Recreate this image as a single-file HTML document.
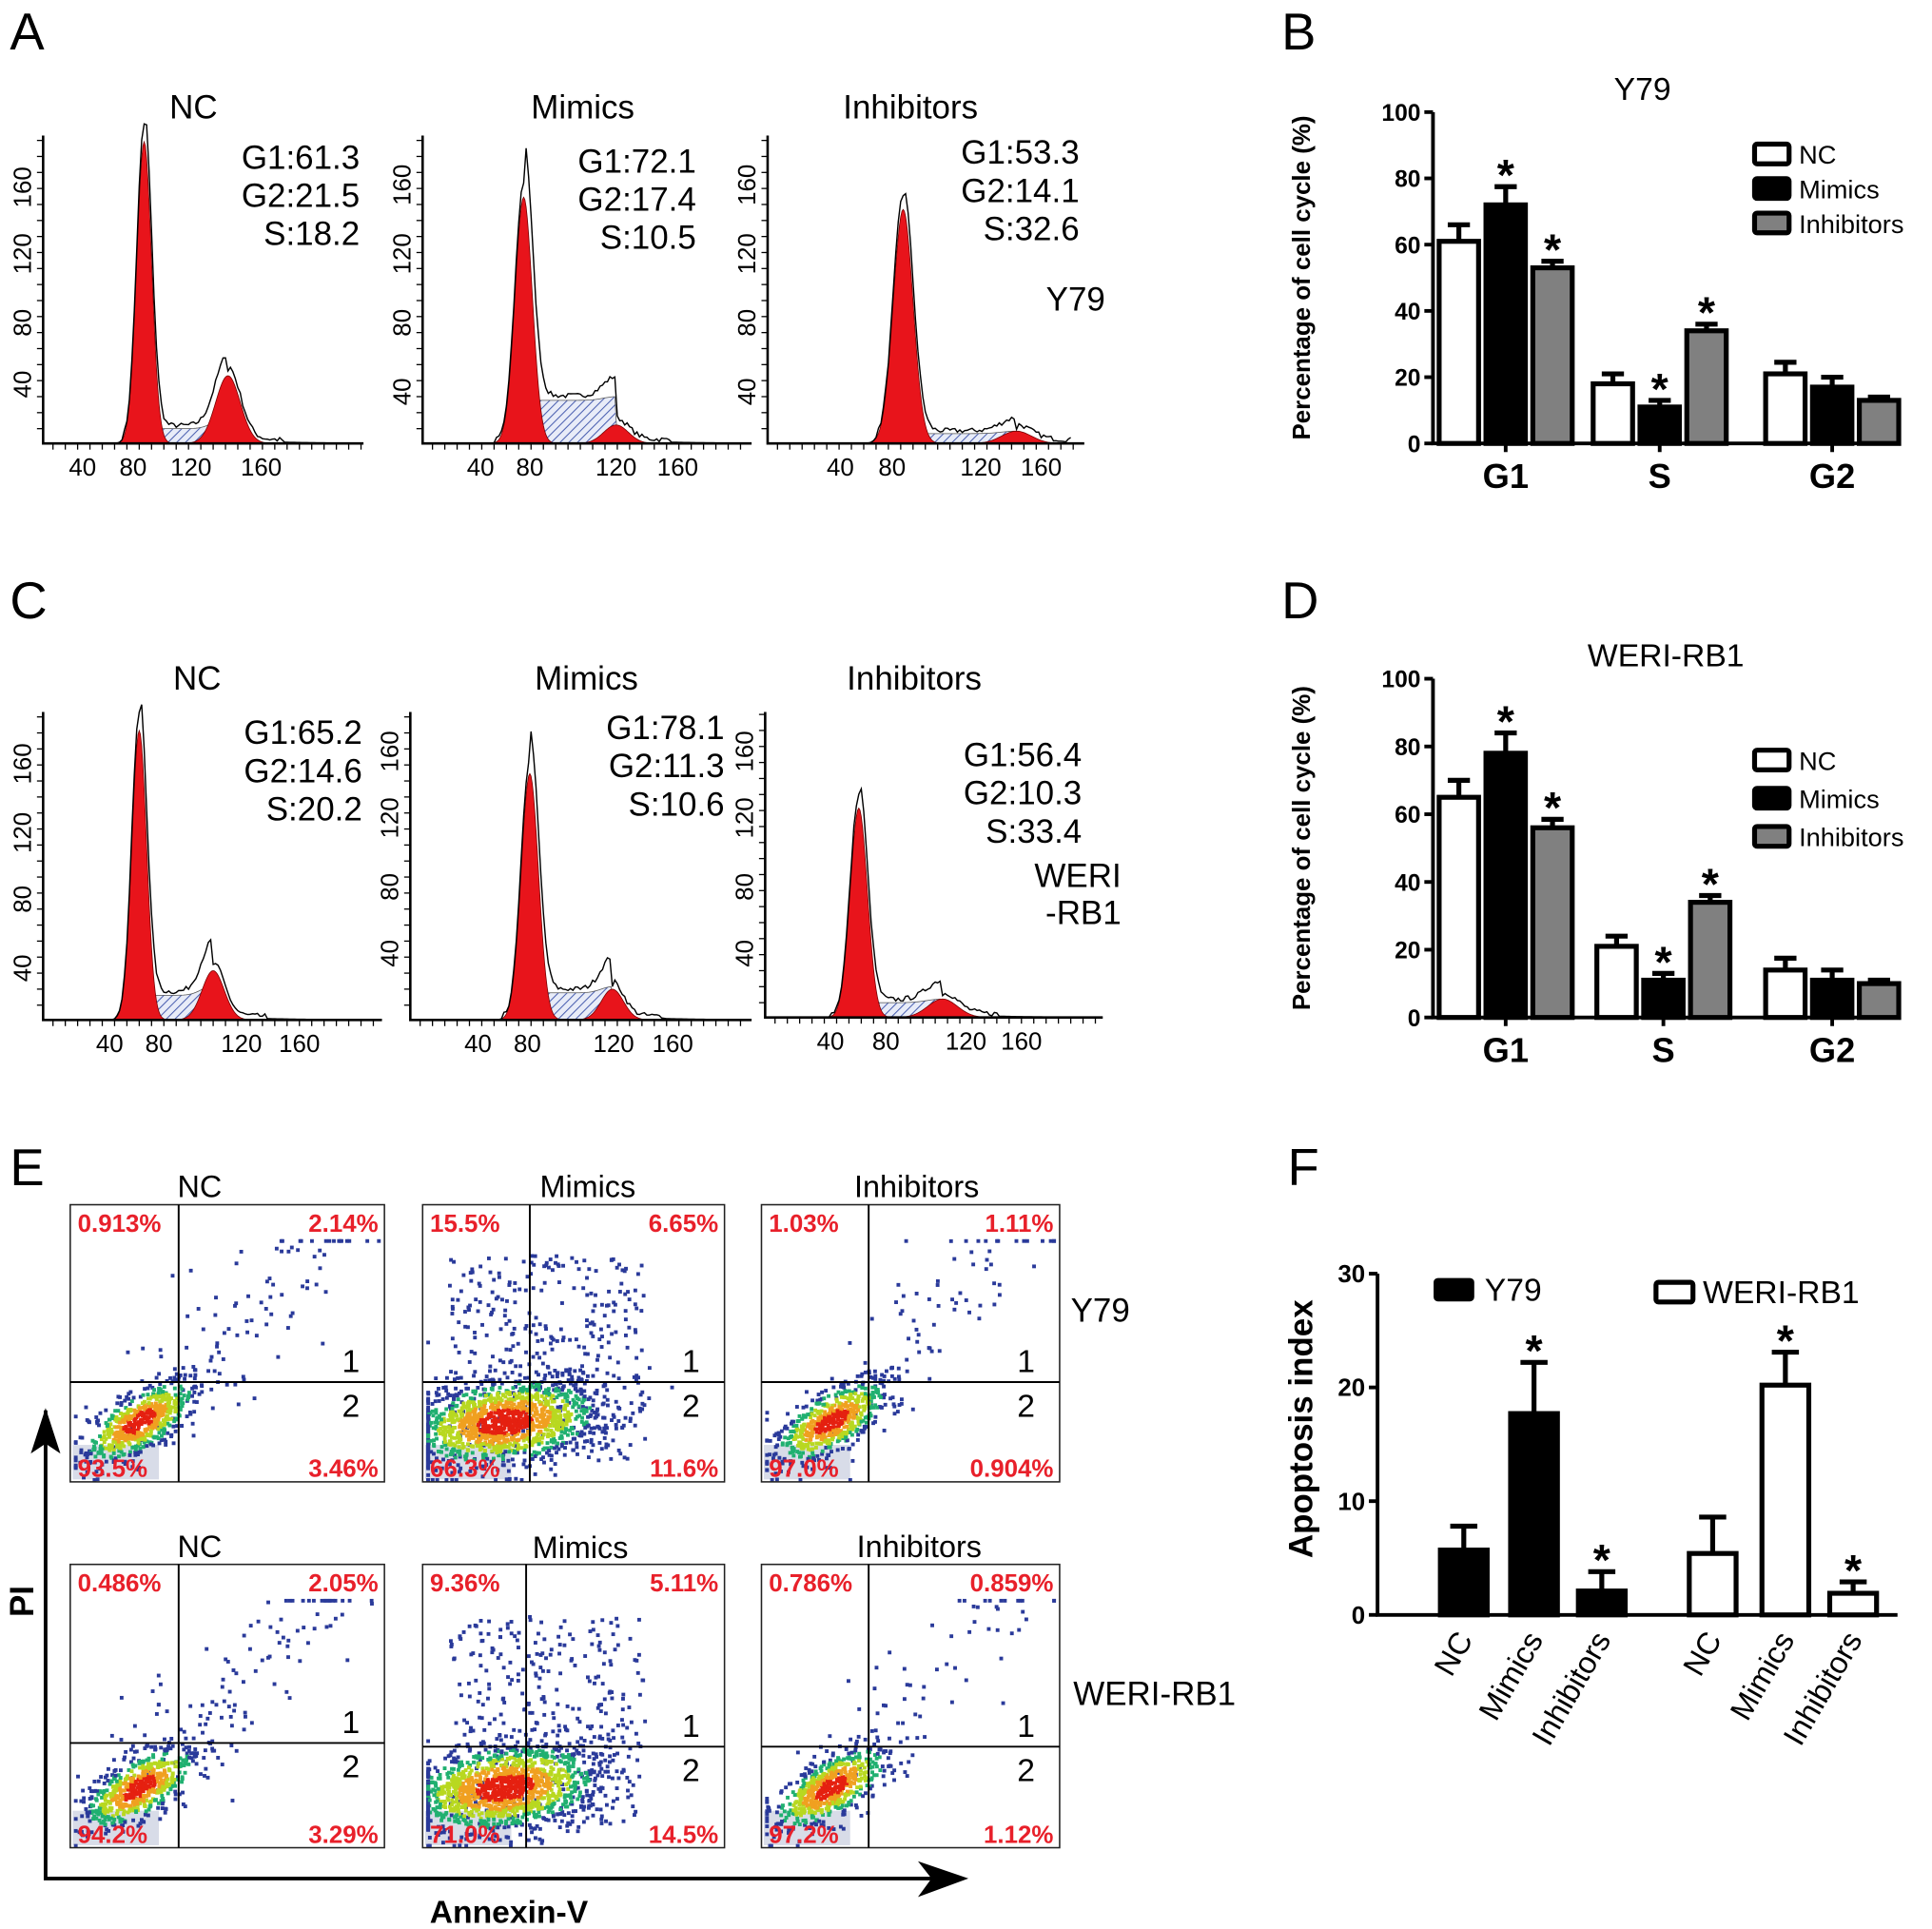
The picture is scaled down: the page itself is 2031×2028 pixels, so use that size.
<!DOCTYPE html>
<html><head><meta charset="utf-8"><style>
html,body{margin:0;padding:0;background:#fff}
svg{display:block;font-family:"Liberation Sans",Arial,sans-serif}
</style></head><body>
<svg id="fig" xmlns="http://www.w3.org/2000/svg" width="2031" height="2028" viewBox="0 0 1568 1566" preserveAspectRatio="none">
<defs>
<pattern id="hatch" width="5" height="5" patternUnits="userSpaceOnUse" patternTransform="rotate(45)">
<rect width="5" height="5" fill="#e8ecf8"/><line x1="0" y1="0" x2="0" y2="5" stroke="#4a5fb0" stroke-width="1.6"/>
</pattern>
</defs>
<rect width="1568" height="1566" fill="#fff"/>
</svg>
<script>
// ---------- data ----------
const phases = ['G1','S','G2'];
const groups = ['NC','Mimics','Inhibitors'];
const y79Values = [[61,18,21],[72,11,17],[53,34,13]];
const y79Errors = [[5,3,3.5],[5.5,2,3],[2,2,1]];
const y79Stars = [[0,0,0],[1,1,0],[1,1,0]];
const weriValues = [[65,21,14],[78,11,11],[56,34,10]];
const weriErrors = [[5,3,3.5],[6,2,3],[2.5,2,1]];
const weriStars = [[0,0,0],[1,1,0],[1,1,0]];
const cycleTicks = [0,20,40,60,80,100];
const apopCats = ['NC','Mimics','Inhibitors'];
const apopY79 = [5.7,17.7,2.1];
const apopY79Err = [2.1,4.5,1.7];
const apopWeri = [5.4,20.2,1.9];
const apopWeriErr = [3.2,2.9,1.0];
const apopStars = [0,1,1];
const apopTicks = [0,10,20,30];
const histTexts = [
 ['G1:61.3','G2:21.5','S:18.2'],['G1:72.1','G2:17.4','S:10.5'],['G1:53.3','G2:14.1','S:32.6'],
 ['G1:65.2','G2:14.6','S:20.2'],['G1:78.1','G2:11.3','S:10.6'],['G1:56.4','G2:10.3','S:33.4']];
const quadLabels = [
 ['0.913%','2.14%','93.5%','3.46%'],['15.5%','6.65%','66.3%','11.6%'],['1.03%','1.11%','97.0%','0.904%'],
 ['0.486%','2.05%','94.2%','3.29%'],['9.36%','5.11%','71.0%','14.5%'],['0.786%','0.859%','97.2%','1.12%']];

const svg = document.getElementById('fig');
const NS='http://www.w3.org/2000/svg';
function mk(tag, attrs){const e=document.createElementNS(NS,tag);for(const k in attrs)e.setAttribute(k,attrs[k]);svg.appendChild(e);return e;}
function txt(x,y,s,size,opts){opts=opts||{};const e=mk('text',{x:x,y:y,'font-size':size,'text-anchor':opts.anchor||'start',fill:opts.fill||'#000','font-weight':opts.bold?'bold':'normal'});if(opts.rot)e.setAttribute('transform','rotate('+opts.rot+' '+x+' '+y+')');e.textContent=s;return e;}
let seed=7;function rnd(){seed=(seed*16807)%2147483647;return (seed-1)/2147483646;}
function gauss(){let u=rnd()||1e-6,v=rnd();return Math.sqrt(-2*Math.log(u))*Math.cos(2*Math.PI*v);}

[['A',8,40],['B',1040,40],['C',8,502],['D',1040,502],['E',8,962],['F',1045,962]].forEach(p=>{
 const e=txt(p[1],p[2],p[0],42);
 
 
});

// ---------- histograms ----------
const hists=[
 {ax:35,bot:360,right:295,top:110,g1:117,h1:245,s1:6,g2:185,h2:55,s2:10,sl:12,title:'NC',tx:157,ty:96,tr:292,tyy:137,ticks:[67,108,155,212],yt:[312,262,206,152]},
 {ax:343,bot:360,right:610,top:110,g1:425,h1:200,s1:7,g2:500,h2:15,s2:10,sl:35,title:'Mimics',tx:473,ty:96,tr:565,tyy:140,ticks:[390,430,500,550],yt:[318,262,206,150]},
 {ax:623,bot:360,right:880,top:110,g1:733,h1:190,s1:8,g2:825,h2:10,s2:12,sl:8,title:'Inhibitors',tx:739,ty:96,tr:876,tyy:133,ticks:[682,724,796,845],yt:[318,262,206,150]},
 {ax:35,bot:828,right:310,top:578,g1:113,h1:235,s1:6,g2:173,h2:40,s2:9,sl:20,title:'NC',tx:160,ty:560,tr:294,tyy:604,ticks:[89,129,196,243],yt:[786,730,676,620]},
 {ax:333,bot:828,right:610,top:578,g1:430,h1:200,s1:7,g2:497,h2:25,s2:9,sl:22,title:'Mimics',tx:476,ty:560,tr:588,tyy:600,ticks:[388,428,498,546],yt:[774,720,664,610]},
 {ax:621,bot:826,right:895,top:578,g1:697,h1:170,s1:7,g2:765,h2:15,s2:12,sl:12,title:'Inhibitors',tx:742,ty:560,tr:878,tyy:622,ticks:[674,719,784,829],yt:[774,720,664,610]}
];
hists.forEach((h,i)=>{
 const t=txt(h.tx,h.ty,h.title,27,{anchor:'middle'});
 
 
 histTexts[i].forEach((s,k)=>{
  const e=txt(h.tr,h.tyy+k*31,s,27,{anchor:'end'});
  
  
 });
 const g=(x,c,hh,s)=>hh*Math.exp(-((x-c)*(x-c))/(2*s*s));
 const sFn=x=>(x>h.g1 && x<h.g2)?h.sl:0;
 let hatch='M'+(h.g1)+' '+h.bot,red1='M'+(h.g1-4*h.s1)+' '+h.bot,red2='M'+(h.g2-4*h.s2)+' '+h.bot,out='M'+(h.ax+20)+' '+h.bot;
 for(let x=h.g1;x<=h.g2+3*h.s2;x+=2){hatch+=' L'+x+' '+(h.bot-sFn(x)-g(x,h.g2,h.h2,h.s2)*0.2);}
 hatch+=' L'+(h.g2+3*h.s2)+' '+h.bot+'Z';
 for(let x=h.g1-4*h.s1;x<=h.g1+4*h.s1;x+=1)red1+=' L'+x+' '+(h.bot-g(x,h.g1,h.h1,h.s1));
 red1+=' Z';
 for(let x=h.g2-4*h.s2;x<=h.g2+4*h.s2;x+=1)red2+=' L'+x+' '+(h.bot-g(x,h.g2,h.h2,h.s2));
 red2+=' Z';
 for(let x=h.ax+20;x<h.right-10;x+=2){
  let v=g(x,h.g1,h.h1,h.s1)+g(x,h.g2,h.h2,h.s2)+sFn(x)+(x>h.g2?3*Math.exp(-(x-h.g2)/40):0);
  v=v*1.05+(v>1?rnd()*4:0);
  out+=' L'+x+' '+(h.bot-v);
 }
 const hp=mk('path',{d:hatch,fill:'url(#hatch)',stroke:'#555','stroke-width':0.6});
 
 
 const r1=mk('path',{d:red1,fill:'#e8141b',stroke:'#700','stroke-width':0.6});
 
 
 const r2=mk('path',{d:red2,fill:'#e8141b',stroke:'#700','stroke-width':0.6});
 
 
 const o=mk('path',{d:out,fill:'none',stroke:'#000','stroke-width':1.1});
 
 
 const a=mk('path',{d:'M'+h.ax+' '+h.top+' L'+h.ax+' '+h.bot+' L'+h.right+' '+h.bot,fill:'none',stroke:'#000','stroke-width':2});
 
 
 ['40','80','120','160'].forEach((s,k)=>{
  const e=txt(h.ticks[k],h.bot+26,s,20,{anchor:'middle'});
  
  
  const e2=txt(h.ax-10,h.yt[k],s,20,{anchor:'middle',rot:-90});
  
  
 });
 for(let x=h.ax+8;x<h.right;x+=10){mk('line',{x1:x,y1:h.bot,x2:x,y2:h.bot+5,stroke:'#000','stroke-width':1});}
 for(let y=h.bot-12;y>h.top;y-=13){mk('line',{x1:h.ax,y1:y,x2:h.ax-5,y2:y,stroke:'#000','stroke-width':1});}
});
[['Y79',897,252],['WERI',910,720],['-RB1',910,750]].forEach(p=>{
 const e=txt(p[1],p[2],p[0],27,{anchor:'end'});
 
 
});

// ---------- cycle bar charts ----------
function cycleChart(cfg,vals,errs,stars,title){
 const y=v=>cfg.y0-(v/100)*(cfg.y0-cfg.y100);
 const fills=['#fff','#000','#808080'];
 const bw=32, centers=cfg.centers;
 const tt=txt(cfg.tx,cfg.y100-10,title,26,{anchor:'middle'});
 
 
 phases.forEach((p,pi)=>{
  groups.forEach((gname,gi)=>{
   const xc=centers[pi]+(gi-1)*38;
   const v=vals[gi][pi], e=errs[gi][pi];
   const el=mk('line',{x1:xc,y1:y(v),x2:xc,y2:y(v+e),stroke:'#000','stroke-width':4});
   
   
   mk('line',{x1:xc-9,y1:y(v+e),x2:xc+9,y2:y(v+e),stroke:'#000','stroke-width':4});
   const r=mk('rect',{x:xc-bw/2,y:y(v),width:bw,height:y(0)-y(v),fill:fills[gi],stroke:'#000','stroke-width':4});
   
   
   if(stars[gi][pi]){const s=txt(xc,y(v+e)+3,'*',36,{anchor:'middle',bold:true});
    
    }
  });
  const lab=txt(centers[pi],cfg.y0+36,p,28,{anchor:'middle',bold:true});
  
  
  mk('line',{x1:centers[pi],y1:cfg.y0,x2:centers[pi],y2:cfg.y0+7,stroke:'#000','stroke-width':3});
 });
 const ax=mk('path',{d:'M'+cfg.ax+' '+cfg.y100+' L'+cfg.ax+' '+cfg.y0+' L1540 '+cfg.y0,fill:'none',stroke:'#000','stroke-width':3});
 
 
 cycleTicks.forEach(t=>{
  mk('line',{x1:cfg.ax-7,y1:y(t),x2:cfg.ax,y2:y(t),stroke:'#000','stroke-width':3});
  const e=txt(cfg.ax-10,y(t)+7,String(t),19,{anchor:'end',bold:true});
  
  
 });
 const yl=txt(1063,(cfg.y0+cfg.y100)/2,'Percentage of cell cycle (%)',20,{anchor:'middle',bold:true,rot:-90});
 
 
 groups.forEach((gname,gi)=>{
  const ly=cfg.ly+gi*cfg.lgap;
  const r=mk('rect',{x:1424,y:ly-9,width:28,height:16,fill:fills[gi],stroke:'#000','stroke-width':4,rx:2});
  
  
  const e=txt(1460,ly+7,gname,21);
  
  
 });
}
cycleChart({ax:1163,y0:360,y100:91,centers:[1222,1347,1487],tx:1333,ly:126,lgap:28},y79Values,y79Errors,y79Stars,'Y79');
cycleChart({ax:1163,y0:826,y100:551,centers:[1222,1350,1487],tx:1352,ly:618,lgap:31},weriValues,weriErrors,weriStars,'WERI-RB1');

// ---------- apoptosis chart ----------
(function(){
 const y0=1311,y30=1034,ax=1118;
 const y=v=>y0-(v/30)*(y0-y30);
 const xsY=[1188,1245,1300], xsW=[1390,1449,1504];
 function bars(xs,vals,errs,fill,name){
  xs.forEach((xc,i)=>{
   const v=vals[i],e=errs[i];
   mk('line',{x1:xc,y1:y(v),x2:xc,y2:y(v+e),stroke:'#000','stroke-width':4});
   mk('line',{x1:xc-11,y1:y(v+e),x2:xc+11,y2:y(v+e),stroke:'#000','stroke-width':4});
   const r=mk('rect',{x:xc-19,y:y(v),width:38,height:y(0)-y(v),fill:fill,stroke:'#000','stroke-width':4});
   
   
   if(apopStars[i]){const s=txt(xc,y(v+e)+3,'*',36,{anchor:'middle',bold:true});
    
    }
   const l=txt(xc+8,y0+20,apopCats[i],25,{anchor:'end',rot:-60});
   
   
  });
 }
 bars(xsY,apopY79,apopY79Err,'#000','y79');
 bars(xsW,apopWeri,apopWeriErr,'#fff','weri');
 const a=mk('path',{d:'M'+ax+' '+y30+' L'+ax+' '+y0+' L1540 '+y0,fill:'none',stroke:'#000','stroke-width':3});
 
 
 apopTicks.forEach(t=>{
  mk('line',{x1:ax-7,y1:y(t),x2:ax,y2:y(t),stroke:'#000','stroke-width':3});
  const e=txt(ax-10,y(t)+7,String(t),20,{anchor:'end',bold:true});
  
  
 });
 const yl=txt(1065,1160,'Apoptosis index',27,{anchor:'middle',bold:true,rot:-90});
 
 
 const l1=mk('rect',{x:1165,y:1039,width:30,height:16,fill:'#000',stroke:'#000','stroke-width':3,rx:2});
 
 
 const t1=txt(1205,1056,'Y79',26);
 
 
 const l2=mk('rect',{x:1344,y:1041,width:30,height:16,fill:'#fff',stroke:'#000','stroke-width':4,rx:2});
 
 
 const t2=txt(1382,1058,'WERI-RB1',26);
 
 
})();

// ---------- scatter plots ----------
const plots=[
 {x:57,y:978,w:255,h:225,vx:145,hy:1122,t:'NC',tx:162,ty:972,spread:0.5,dense:1.4},
 {x:343,y:978,w:245,h:225,vx:430,hy:1122,t:'Mimics',tx:477,ty:972,spread:3,dense:3},
 {x:618,y:978,w:242,h:225,vx:705,hy:1122,t:'Inhibitors',tx:744,ty:972,spread:0.3,dense:1.4},
 {x:57,y:1270,w:255,h:230,vx:145,hy:1415,t:'NC',tx:162,ty:1264,spread:0.6,dense:1.4},
 {x:343,y:1270,w:245,h:230,vx:427,hy:1418,t:'Mimics',tx:471,ty:1265,spread:2.5,dense:3},
 {x:618,y:1270,w:242,h:230,vx:705,hy:1418,t:'Inhibitors',tx:746,ty:1264,spread:0.25,dense:1.4}
];
plots.forEach((p,i)=>{
 const tt=txt(p.tx,p.ty,p.t,25,{anchor:'middle'});
 
 
 const bg=mk('rect',{x:p.x+2,y:p.y+p.h-30,width:70,height:28,fill:'#d8dce8'});
 
 
 const cx=p.x+55, cy=p.y+p.h-50;
 const n1=Math.round(120*p.spread+40);
 for(let k=0;k<n1;k++){
  const t=rnd();
  let px=p.vx-30+t*(p.w-(p.vx-p.x))*1.0+gauss()*20, py=p.hy+30-t*170+gauss()*25;
  if(p.spread>1){px=p.x+20+rnd()*(p.w*0.65);py=p.y+40+rnd()*(p.h-60);}
  px=Math.min(Math.max(px,p.x+3),p.x+p.w-6);py=Math.min(Math.max(py,p.y+28),p.y+p.h-3);
  mk('rect',{x:px,y:py,width:3,height:3,fill:'#2a3a9a'});
 }
 const n2=Math.round(450*p.dense);
 for(let k=0;k<n2;k++){
  const a=gauss(),b=gauss();
  let px=cx+a*22+b*6, py=cy-a*14+b*9;
  if(p.dense>2){px=cx+a*38+b*8+10;py=cy-a*8+b*16;}
  px=Math.min(Math.max(px,p.x+3),p.x+p.w-3);py=Math.min(Math.max(py,p.y+3),p.y+p.h-3);
  const r=Math.hypot(a,b);
  const col=r<0.6?'#e52010':r<1.0?'#f0a020':r<1.4?'#b8d820':r<1.8?'#20b070':'#2a3a9a';
  mk('rect',{x:px,y:py,width:3,height:3,fill:col});
 }
 const box=mk('rect',{x:p.x,y:p.y,width:p.w,height:p.h,fill:'none',stroke:'#222','stroke-width':1.2});
 
 
 mk('line',{x1:p.vx,y1:p.y,x2:p.vx,y2:p.y+p.h,stroke:'#000','stroke-width':1.5});
 mk('line',{x1:p.x,y1:p.hy,x2:p.x+p.w,y2:p.hy,stroke:'#000','stroke-width':1.5});
 const q=quadLabels[i];
 [[p.x+6,p.y+22,'start',q[0]],[p.x+p.w-5,p.y+22,'end',q[1]],[p.x+6,p.y+p.h-4,'start',q[2]],[p.x+p.w-5,p.y+p.h-4,'end',q[3]]].forEach(l=>{
  const e=txt(l[0],l[1],l[3],20,{anchor:l[2],bold:true,fill:'#e8202a'});
  
  
 });
 const a1=txt(p.x+p.w-20,p.hy-8,'1',26,{anchor:'end'});
 
 
 const a2=txt(p.x+p.w-20,p.hy+28,'2',26,{anchor:'end'});
 
 
});
[['Y79',893,1073],['WERI-RB1',937,1384]].forEach(p=>{
 const e=txt(p[1],p[2],p[0],27,{anchor:'middle'});
 
 
});
const arr=mk('path',{d:'M37 1145 L37 1525 L760 1525',fill:'none',stroke:'#000','stroke-width':3});


const h1=mk('path',{d:'M37 1143 L25 1180 L37 1172 L49 1180 Z',fill:'#000'});


const h2=mk('path',{d:'M786 1525 L745 1511 L756 1525 L745 1540 Z',fill:'#000'});


const pl=txt(27,1300,'PI',27,{anchor:'middle',bold:true,rot:-90});


const al=txt(413,1561,'Annexin-V',26,{anchor:'middle',bold:true});


</script>
</body></html>
